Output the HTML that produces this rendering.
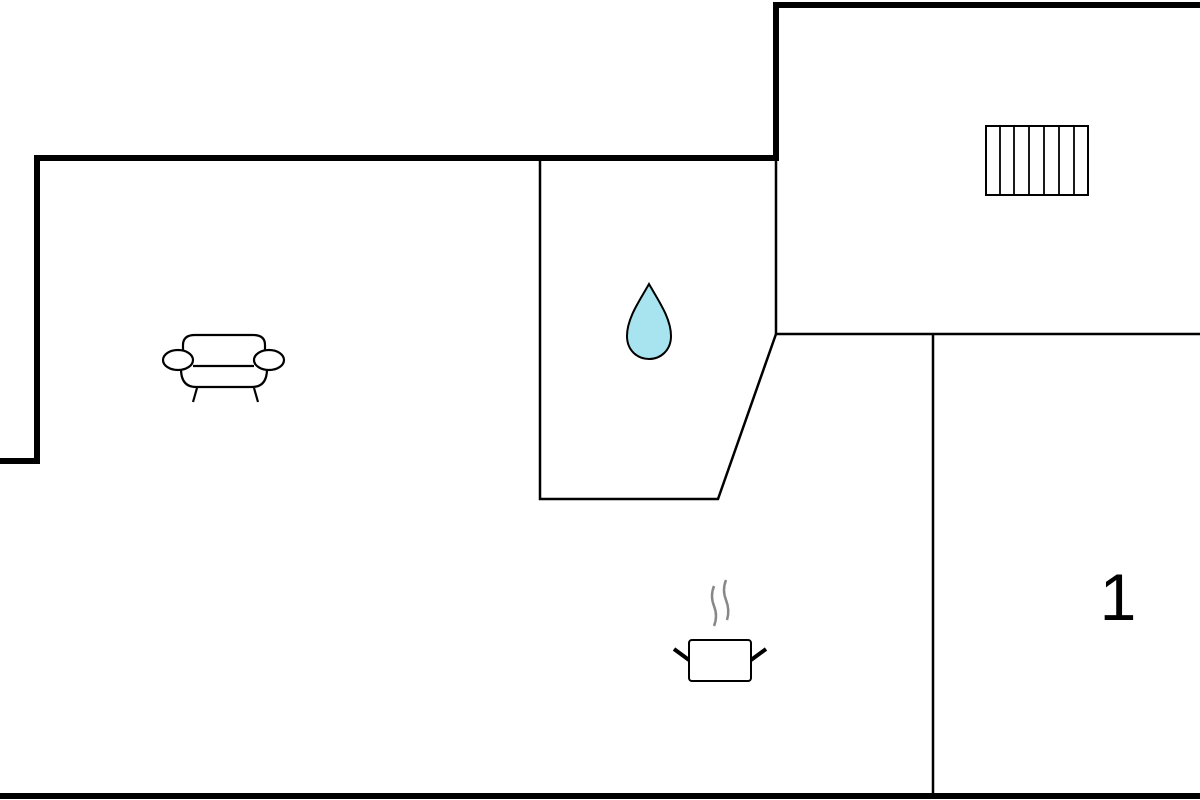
<!DOCTYPE html>
<html><head><style>html,body{margin:0;padding:0;background:#fff;width:1200px;height:800px;overflow:hidden}</style></head>
<body>
<svg width="1200" height="800" viewBox="0 0 1200 800" xmlns="http://www.w3.org/2000/svg">
<rect width="1200" height="800" fill="#fff"/>
<g fill="none" stroke="#000" stroke-linejoin="miter">
<polyline points="0,461 37,461 37,158 776,158 776,5 1200,5" stroke-width="6"/>
<line x1="0" y1="796" x2="1200" y2="796" stroke-width="6"/>
<polyline points="540,158 540,499 718,499 776,334" stroke-width="2.5"/>
<line x1="776" y1="158" x2="776" y2="334" stroke-width="2.5"/>
<line x1="776" y1="334" x2="1200" y2="334" stroke-width="2.5"/>
<line x1="933" y1="334" x2="933" y2="796" stroke-width="2.5"/>
<!-- radiator -->
<rect x="986" y="126" width="102" height="69" stroke-width="2"/>
<g stroke-width="1.8">
<line x1="1000" y1="126" x2="1000" y2="195"/><line x1="1014" y1="126" x2="1014" y2="195"/>
<line x1="1029" y1="126" x2="1029" y2="195"/><line x1="1044" y1="126" x2="1044" y2="195"/>
<line x1="1059" y1="126" x2="1059" y2="195"/><line x1="1074" y1="126" x2="1074" y2="195"/>
</g>
<!-- drop -->
<path d="M649,284 C640,300 627,318 627,336 C627,350 637,359 649,359 C661,359 671,350 671,336 C671,318 658,300 649,284 Z" fill="#a8e4ef" stroke-width="2"/>
<!-- sofa -->
<g stroke-width="2.2">
<path d="M183,352 L183,345 Q183,335 195,335 L253,335 Q265,335 265,345 L265,352"/>
<ellipse cx="178" cy="360" rx="15" ry="10" fill="#fff"/>
<ellipse cx="269" cy="360" rx="15" ry="10" fill="#fff"/>
<line x1="193" y1="366" x2="254" y2="366"/>
<path d="M181,369 Q181,387 196,387 L252,387 Q267,387 267,369"/>
<line x1="197" y1="388" x2="193" y2="402"/><line x1="254" y1="388" x2="258" y2="402"/>
</g>
<!-- pot -->
<rect x="689" y="640" width="62" height="41" rx="3" stroke-width="2"/>
<line x1="674" y1="649" x2="689" y2="660" stroke-width="4"/>
<line x1="766" y1="649" x2="751" y2="660" stroke-width="4"/>
<path d="M714,586 Q710,596 714,606 Q718,616 714,626" stroke="#888" stroke-width="2.5"/>
<path d="M726,580 Q722,590 726,600 Q730,610 727,620" stroke="#888" stroke-width="2.5"/>
</g>
<text x="1118" y="620" font-family="Liberation Sans, sans-serif" font-size="66" text-anchor="middle" fill="#000">1</text>
</svg>
</body></html>
